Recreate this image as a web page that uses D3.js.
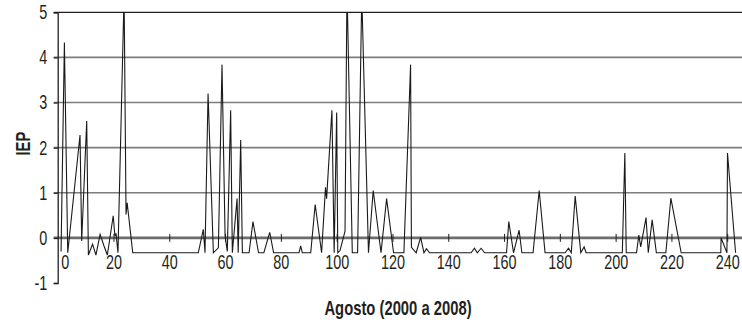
<!DOCTYPE html>
<html>
<head>
<meta charset="utf-8">
<script src="https://cdn.jsdelivr.net/npm/d3@7"></script>
<style>
  html, body { margin: 0; padding: 0; background: #fff; }
  svg { display: block; }
  text { font-family: "Liberation Sans", Arial, sans-serif; fill: #231f20; }
</style>
</head>
<body>
<svg id="chart" width="742" height="325"></svg>
<script>
// ---- data ----
const dia = [1.2, 2.4, 3.6, 8.0, 8.6, 10.4, 11.0, 12.5, 13.7, 15.2, 16.6, 17.8, 19.9, 20.5, 20.9, 21.6,
  23.8, 24.5, 24.9, 26.9, 50.4, 52.2, 52.8, 53.9, 55.8, 57.6, 58.9, 60.0, 60.8, 62.0, 62.6,
  64.3, 64.7, 65.6, 66.2, 68.6, 70.0, 72.0, 73.9, 76.0, 77.4, 86.5, 87.1, 87.7, 90.7,
  92.3, 94.6, 96.0, 96.4, 98.3, 99.1, 100.0, 100.4, 101.2, 103.0, 103.7, 105.6, 107.5,
  109.0, 111.4, 113.1, 115.9, 117.9, 120.4, 124.1, 126.5, 126.8, 128.5, 130.1, 131.3,
  132.2, 133.3, 148.2, 149.4, 150.4, 151.8, 153.0, 160.9, 161.7, 163.4, 165.4, 166.4,
  170.4, 172.6, 174.7, 181.9, 183.1, 184.1, 185.5, 187.5, 188.7, 189.4, 202.4, 203.3,
  203.8, 207.5, 208.3, 209.0, 210.9, 211.7, 213.1, 214.6, 218.0, 219.8, 223.5, 237.7,
  237.8, 239.9, 240.1, 243.0];
const iep = [-0.3, 4.33, -0.33, 2.28, -0.07, 2.59, -0.38, -0.14, -0.38, 0.08, -0.18, -0.38, 0.49, 0.04, 0.1, -0.33,
  5.4, 0.52, 0.78, -0.33, -0.33, 0.19, -0.33, 3.2, -0.33, -0.22, 3.84, 0.04, -0.3, 2.83, -0.33,
  0.87, -0.33, 2.17, -0.33, -0.33, 0.36, -0.33, -0.33, 0.12, -0.33, -0.33, -0.18, -0.33, -0.33,
  0.74, -0.33, 1.12, 0.87, 2.83, -0.33, 2.78, -0.33, -0.28, 0.15, 5.6, -0.33, -0.33,
  5.4, -0.33, 1.05, -0.33, 0.87, -0.33, -0.33, 3.84, -0.21, -0.33, 0.01, -0.33,
  -0.24, -0.33, -0.33, -0.23, -0.33, -0.23, -0.33, -0.33, 0.36, -0.33, 0.17, -0.33,
  -0.33, 1.05, -0.33, -0.33, -0.23, -0.33, 0.93, -0.33, -0.2, -0.33, -0.33, 1.88,
  -0.33, -0.33, 0.06, -0.2, 0.45, -0.33, 0.4, -0.33, -0.33, 0.88, -0.33, -0.33,
  0.0, -0.33, 1.88, -0.33];
const xTicks = [0, 20, 40, 60, 80, 100, 120, 140, 160, 180, 200, 220, 240];
const yTicks = [-1, 0, 1, 2, 3, 4, 5];
const yTitle = "IEP";
const xTitle = "Agosto (2000 a 2008)";

// ---- scales ----
const svg = d3.select("#chart");
const x = d3.scaleLinear().domain([0, 245.3]).range([57.7, 742]);
const y = d3.scaleLinear().domain([-1, 5]).range([283, 12.3]);
const W = 742;
const SX = 0.72;  // condensed look for tick labels
const SXT = 0.74; // condensed look for titles
const fmt = d => String(d); // plain hyphen minus

svg.append("defs").append("clipPath").attr("id", "plotclip")
  .append("rect").attr("x", x(0)).attr("y", y(5)).attr("width", W - x(0)).attr("height", y(-1) - y(5));

// gridlines
const grid = svg.append("g");
grid.selectAll("line").data(yTicks.filter(d => d >= 0)).join("line")
  .attr("x1", x(0) - 4).attr("x2", W)
  .attr("y1", d => y(d)).attr("y2", d => y(d))
  .attr("stroke", d => d === 5 ? "#231f20" : (d === 0 ? "#6d6d6d" : "#7d7d7d"))
  .attr("stroke-width", d => d === 5 ? 1.3 : (d === 0 ? 2.6 : 1.6));

// y axis
const yAxis = svg.append("g").attr("transform", `translate(${x(0)},0)`)
  .call(d3.axisLeft(y).tickValues(yTicks).tickSize(4).tickPadding(7).tickFormat(fmt));
yAxis.select(".domain").attr("stroke", "#231f20").attr("stroke-width", 1.3);
yAxis.selectAll(".tick line").attr("stroke", "#231f20").attr("stroke-width", 1.2);
yAxis.selectAll("text").attr("font-size", 20).attr("font-family", null).style("fill", "#231f20")
  .attr("x", -10.5 / SX).attr("transform", `scale(${SX},1)`);

// x axis on the zero line
const xAxis = svg.append("g").attr("transform", `translate(0,${y(0)})`)
  .call(d3.axisBottom(x).tickValues(xTicks).tickSize(4).tickFormat(fmt));
xAxis.select(".domain").remove();
xAxis.selectAll(".tick line").attr("y1", -4).attr("y2", 4).attr("stroke", "#231f20").attr("stroke-width", 1)
  .filter(d => d === 0).remove();
xAxis.selectAll("text").attr("font-size", 20).attr("font-family", null).style("fill", "#231f20")
  .attr("y", 31).attr("dy", 0)
  .attr("x", d => (d === 0 ? 7 : 0) / SX)
  .attr("transform", `scale(${SX},1)`);

// data line
const pts = dia.map((d, i) => [d, iep[i]]);
svg.append("path").datum(pts)
  .attr("clip-path", "url(#plotclip)")
  .attr("fill", "none").attr("stroke", "#1a1a1a").attr("stroke-width", 1.1)
  .attr("stroke-linejoin", "miter")
  .attr("d", d3.line().x(d => x(d[0])).y(d => y(d[1])));

// titles
svg.append("g").attr("transform", `translate(30,${(y(5) + y(-1)) / 2 - 4}) rotate(-90) scale(${SXT},1)`)
  .append("text").attr("text-anchor", "middle").attr("font-size", 20).attr("font-weight", "bold").text(yTitle);
svg.append("g").attr("transform", `translate(398,315) scale(${SXT},1)`)
  .append("text").attr("text-anchor", "middle").attr("font-size", 20).attr("font-weight", "bold").text(xTitle);
</script>
</body>
</html>
